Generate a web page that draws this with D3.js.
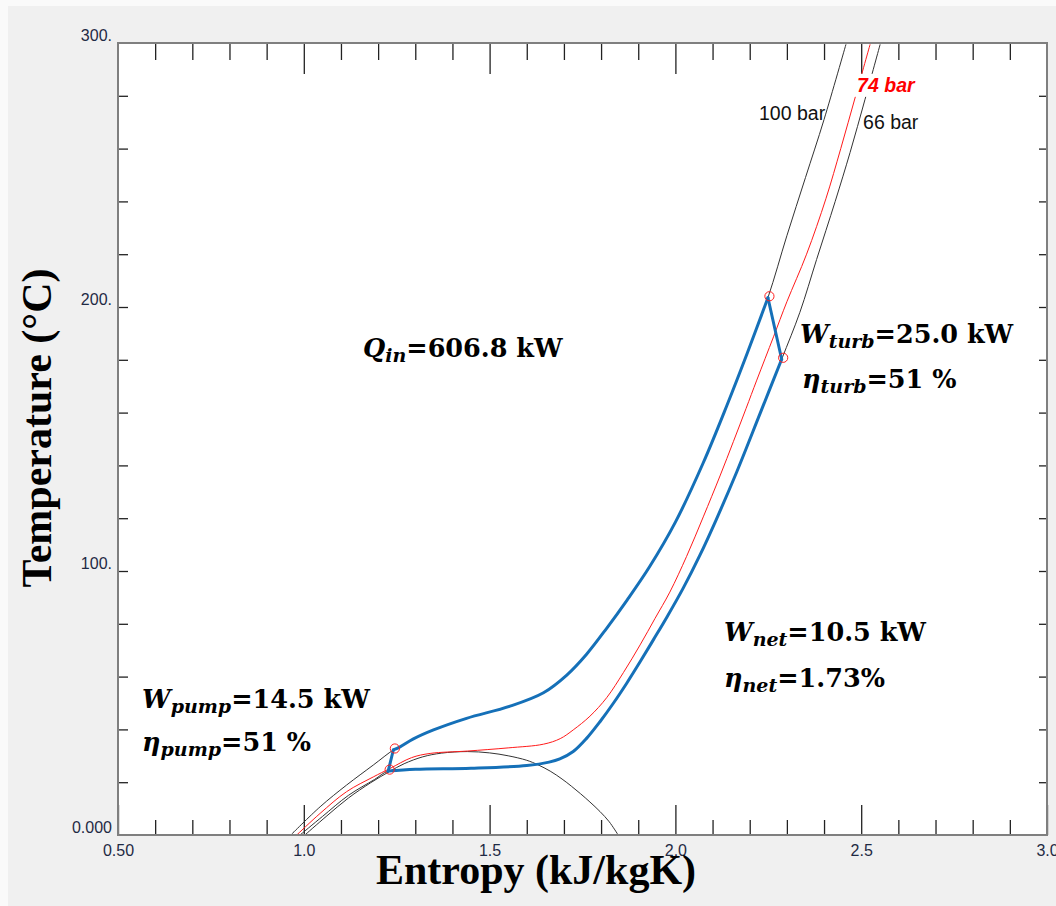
<!DOCTYPE html>
<html><head><meta charset="utf-8">
<script src="https://cdn.jsdelivr.net/npm/d3@7"></script>
<style>
html,body{margin:0;padding:0;background:#fafafa;}
svg{display:block;}
</style></head>
<body>
<svg id="chart" width="1056" height="906"></svg>
<script>
// ---------- DATA (entropy kJ/kgK, temperature °C) ----------
const xMajorTicks = [0.5, 1.0, 1.5, 2.0, 2.5, 3.0];
const xTickLabels = ["0.50", "1.0", "1.5", "2.0", "2.5", "3.0"];
const xMinorTicks = [0.6,0.7,0.8,0.9,1.1,1.2,1.3,1.4,1.6,1.7,1.8,1.9,2.1,2.2,2.3,2.4,2.6,2.7,2.8,2.9];
const yTicks = [0,20,40,60,80,100,120,140,160,180,200,220,240,260,280,300];
const yLabelTicks = [0, 100, 200, 300];
const yTickLabels = ["0.000", "100.", "200.", "300."];

const satDome = [[1.003,0],[1.06,7],[1.12,14],[1.18,19.8],[1.23,24],[1.27,27],[1.32,29.6],[1.37,31],[1.44,31.6],
  [1.50,31.1],[1.55,30],[1.60,28.3],[1.63,26.6],[1.663,24.2],[1.695,21.2],[1.72,18.5],[1.745,15.6],[1.77,12.5],
  [1.797,8.9],[1.822,5],[1.846,0]];

const isobar100 = [[0.965,0],[1.044,10.7],[1.115,18.9],[1.187,26.5],[1.241,32.2],[1.259,33.4],[1.295,36.4],[1.349,39.8],
  [1.438,44.2],[1.555,48.8],[1.645,53.9],[1.707,60.5],[1.761,68.5],[1.815,78.3],[1.87,89],[1.93,101.5],[2.0,118.5],
  [2.075,141],[2.138,162.5],[2.192,182],[2.249,203.5],[2.30,227],[2.35,249],[2.40,271],[2.459,299.5]];

const isobar74 = [[0.981,0],[1.044,8.2],[1.115,16.4],[1.187,22],[1.232,25.2],[1.29,29.3],[1.34,30.9],[1.44,31.8],
  [1.55,33],[1.645,34.4],[1.69,36.5],[1.725,39.8],[1.77,45],[1.815,52],[1.86,61.5],[1.905,72],[1.945,82],[1.985,92],
  [2.03,105.5],[2.075,120.5],[2.12,136],[2.156,149],[2.19,161.5],[2.219,172.3],[2.264,188.7],[2.30,202],[2.353,220],
  [2.405,241],[2.445,260],[2.485,280],[2.524,299.5]];

const isobar66 = [[0.99,0],[1.05,7],[1.12,15],[1.19,21],[1.227,24.2],[1.30,24.9],[1.45,25.3],[1.60,26.3],[1.66,27.6],
  [1.689,28.8],[1.725,31.6],[1.761,36.6],[1.797,42.9],[1.833,49.9],[1.869,57.5],[1.905,65.6],[1.941,74],[1.977,82.5],
  [2.021,93.5],[2.066,106],[2.11,119.5],[2.165,137.5],[2.228,159.7],[2.286,180.2],[2.335,198],[2.38,218],[2.43,240],
  [2.47,258.5],[2.51,278.5],[2.551,299.5]];

// cycle state points: pump inlet, pump exit, turbine inlet, turbine exit
const statePoints = [[1.227,24.2],[1.241,32.2],[2.249,203.5],[2.286,180.2]];
const cycleHigh = [[1.241,32.2],[1.259,33.4],[1.295,36.4],[1.349,39.8],[1.438,44.2],[1.555,48.8],[1.645,53.9],[1.707,60.5],
  [1.761,68.5],[1.815,78.3],[1.87,89],[1.93,101.5],[2.0,118.5],[2.075,141],[2.138,162.5],[2.192,182],[2.249,203.5]];
const cycleLow = [[1.227,24.2],[1.30,24.9],[1.45,25.3],[1.60,26.3],[1.66,27.6],[1.689,28.8],[1.725,31.6],[1.761,36.6],
  [1.797,42.9],[1.833,49.9],[1.869,57.5],[1.905,65.6],[1.941,74],[1.977,82.5],[2.021,93.5],[2.066,106],[2.11,119.5],
  [2.165,137.5],[2.228,159.7],[2.286,180.2]];

const isobarLabels = [
  {text:"100 bar", s:2.225, T:271, color:"#111", weight:"normal", style:"normal"},
  {text:"74 bar",  s:2.489, T:281.5, color:"#ff0000", weight:"bold", style:"italic"},
  {text:"66 bar",  s:2.505, T:267.5, color:"#111", weight:"normal", style:"normal"}
];

// ---------- CHART ----------
const svg = d3.select("#chart");
const x = d3.scaleLinear([0.5, 3.0], [118, 1047]);
const y = d3.scaleLinear([0, 300], [835, 43]);

svg.append("rect").attr("x",8).attr("y",6).attr("width",1048).attr("height",900).attr("fill","#f0f0f0");
svg.append("rect").attr("x",x(0.5)).attr("y",y(300)).attr("width",x(3)-x(0.5)).attr("height",y(0)-y(300)).attr("fill","#fff");

const defs = svg.append("defs");
defs.append("clipPath").attr("id","plotclip").append("rect")
  .attr("x",x(0.5)).attr("y",y(300)).attr("width",x(3)-x(0.5)).attr("height",y(0)-y(300));

const tickColor = "#222";
function styleAxis(g){ g.select(".domain").remove(); g.selectAll(".tick line").attr("stroke",tickColor).attr("stroke-width",1.3); }

svg.append("g").attr("transform",`translate(0,${y(0)})`)
  .call(d3.axisBottom(x).tickValues(xMajorTicks).tickSize(-30).tickPadding(10).tickFormat((d,i)=>xTickLabels[i]))
  .call(styleAxis)
  .call(g=>g.selectAll("text").attr("font-family","Liberation Sans, Arial, sans-serif").attr("font-size",16).attr("fill","#1f2a44"));
svg.append("g").attr("transform",`translate(0,${y(0)})`)
  .call(d3.axisBottom(x).tickValues(xMinorTicks).tickSize(-15).tickFormat(""))
  .call(styleAxis);
svg.append("g").attr("transform",`translate(0,${y(300)})`)
  .call(d3.axisTop(x).tickValues(xMajorTicks.slice(1,-1)).tickSize(-31).tickFormat(""))
  .call(styleAxis);
svg.append("g").attr("transform",`translate(0,${y(300)})`)
  .call(d3.axisTop(x).tickValues(xMinorTicks).tickSize(-17).tickFormat(""))
  .call(styleAxis);
svg.append("g").attr("transform",`translate(${x(0.5)},0)`)
  .call(d3.axisLeft(y).tickValues(yTicks.slice(1,-1)).tickSize(-10).tickFormat(""))
  .call(styleAxis);
svg.append("g").attr("transform",`translate(${x(0.5)},0)`)
  .call(d3.axisLeft(y).tickValues(yLabelTicks).tickSize(0).tickPadding(6).tickFormat((d,i)=>yTickLabels[i]))
  .call(styleAxis)
  .call(g=>g.selectAll("text").attr("font-family","Liberation Sans, Arial, sans-serif").attr("font-size",16)
     .attr("fill","#1f2a44").attr("dy","-0.18em"));
svg.append("g").attr("transform",`translate(${x(3)},0)`)
  .call(d3.axisRight(y).tickValues(yTicks.slice(1,-1)).tickSize(-8).tickFormat(""))
  .call(styleAxis);

const plot = svg.append("g").attr("clip-path","url(#plotclip)");
const line = d3.line().x(d=>x(d[0])).y(d=>y(d[1])).curve(d3.curveCatmullRom.alpha(0.5));

plot.append("path").datum(satDome).attr("d",line).attr("fill","none").attr("stroke","#333").attr("stroke-width",1);
plot.append("path").datum(isobar100).attr("d",line).attr("fill","none").attr("stroke","#333").attr("stroke-width",1);
plot.append("path").datum(isobar66).attr("d",line).attr("fill","none").attr("stroke","#333").attr("stroke-width",1);
plot.append("path").datum(isobar74).attr("d",line).attr("fill","none").attr("stroke","#ff1a1a").attr("stroke-width",1);

const blue = "#1570b8";
const lineLin = d3.line().x(d=>x(d[0])).y(d=>y(d[1]));
plot.append("path").datum(cycleHigh).attr("d",line).attr("fill","none").attr("stroke",blue).attr("stroke-width",3).attr("stroke-linecap","round");
plot.append("path").datum(cycleLow).attr("d",line).attr("fill","none").attr("stroke",blue).attr("stroke-width",3).attr("stroke-linecap","round");
plot.append("path").datum([statePoints[0],statePoints[1]]).attr("d",lineLin).attr("fill","none").attr("stroke",blue).attr("stroke-width",3).attr("stroke-linecap","round");
plot.append("path").datum([statePoints[2],statePoints[3]]).attr("d",lineLin).attr("fill","none").attr("stroke",blue).attr("stroke-width",3).attr("stroke-linecap","round");
plot.selectAll("circle.sp").data(statePoints).join("circle").attr("class","sp")
  .attr("cx",d=>x(d[0])+1.5).attr("cy",d=>y(d[1])-1.5).attr("r",4.6)
  .attr("fill","none").attr("stroke","#ff2020").attr("stroke-width",1);

isobarLabels.forEach(l=>{
  const t = plot.append("text").attr("x",x(l.s)).attr("y",y(l.T)).text(l.text)
    .attr("font-family","Liberation Sans, Arial, sans-serif").attr("font-size",19.5)
    .attr("font-weight",l.weight).attr("font-style",l.style).attr("fill",l.color);
  if(l.weight==="bold"){
    const bb = t.node().getBBox();
    plot.insert("rect","text").attr("x",bb.x-4).attr("y",bb.y).attr("width",bb.width+6).attr("height",bb.height+1).attr("fill","#fff");
  }
});
plot.selectAll("text").raise();

svg.append("rect").attr("x",x(0.5)).attr("y",y(300)).attr("width",x(3)-x(0.5)).attr("height",y(0)-y(300))
  .attr("fill","none").attr("stroke","#7f7f7f").attr("stroke-width",2);

svg.append("text").attr("x",536).attr("y",884).attr("text-anchor","middle")
  .attr("font-family","Liberation Serif, Times New Roman, serif").attr("font-weight","bold").attr("font-size",42)
  .attr("fill","#000").text("Entropy (kJ/kgK)");
svg.append("text").attr("transform","translate(51,428) rotate(-90)").attr("text-anchor","middle")
  .attr("font-family","Liberation Serif, Times New Roman, serif").attr("font-weight","bold").attr("font-size",42)
  .attr("fill","#000").text("Temperature (°C)");

const annotations = [
  {sym:"Q", sub:"in",   rest:"=606.8 kW", px:363, py:357},
  {sym:"W", sub:"turb", rest:"=25.0 kW",  px:800, py:343},
  {sym:"η", sub:"turb", rest:"=51 %",     px:802, py:388},
  {sym:"W", sub:"net",  rest:"=10.5 kW",  px:724, py:641},
  {sym:"η", sub:"net",  rest:"=1.73%",    px:724, py:687},
  {sym:"W", sub:"pump", rest:"=14.5 kW",  px:142, py:708},
  {sym:"η", sub:"pump", rest:"=51 %",     px:142, py:751}
];
annotations.forEach(a=>{
  const t = svg.append("text").attr("x",a.px).attr("y",a.py)
    .attr("font-family","DejaVu Serif, serif").attr("font-weight","bold").attr("font-size",25.5).attr("fill","#000");
  t.append("tspan").attr("font-style","italic").text(a.sym);
  t.append("tspan").attr("font-style","italic").attr("font-size",19).attr("dy",5).text(a.sub);
  t.append("tspan").attr("dy",-5).text(a.rest);
});
</script>
</body></html>
